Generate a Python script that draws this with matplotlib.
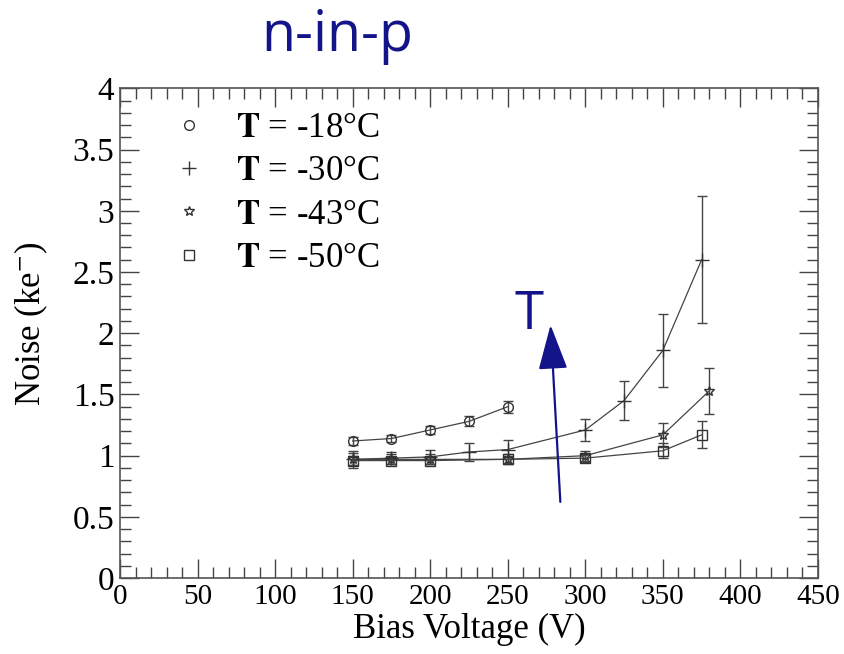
import matplotlib
matplotlib.use("Agg")
import matplotlib.pyplot as plt
from matplotlib.lines import Line2D
from matplotlib.ticker import MultipleLocator

# bias voltage (V), noise (ke-), error (ke-) per temperature
v_18 = [150, 175, 200, 225, 250]
n_18 = [1.12, 1.14, 1.21, 1.28, 1.40]
e_18 = [0.03, 0.03, 0.03, 0.04, 0.05]

v_30 = [150, 175, 200, 225, 250, 300, 325, 350, 375]
n_30 = [0.97, 0.98, 0.99, 1.03, 1.05, 1.21, 1.45, 1.86, 2.60]
e_30 = [0.07, 0.05, 0.06, 0.07, 0.08, 0.09, 0.16, 0.30, 0.52]

v_43 = [150, 175, 200, 250, 300, 350, 380]
n_43 = [0.97, 0.97, 0.97, 0.97, 1.00, 1.17, 1.53]
e_43 = [0.05, 0.04, 0.04, 0.04, 0.04, 0.10, 0.19]

v_50 = [150, 175, 200, 250, 300, 350, 375]
n_50 = [0.96, 0.96, 0.96, 0.97, 0.98, 1.04, 1.17]
e_50 = [0.04, 0.03, 0.03, 0.03, 0.03, 0.06, 0.11]

temps = ["-18", "-30", "-43", "-50"]
markers = ["o", "+", "*", "s"]
x_ticks = [0, 50, 100, 150, 200, 250, 300, 350, 400, 450]
y_ticks = [0, 0.5, 1, 1.5, 2, 2.5, 3, 3.5, 4]

NAVY = "#14148a"
SERIF = "Liberation Serif"
plt.rcParams["mathtext.fontset"] = "stix"

fig = plt.figure(figsize=(8.45, 6.54), dpi=100)
ax = fig.add_axes([0.142, 0.116, 0.826, 0.749])

series = [(v_18, n_18, e_18), (v_30, n_30, e_30), (v_43, n_43, e_43), (v_50, n_50, e_50)]
handles = []
for (v, n, e), mk in zip(series, markers):
    style = dict(marker=mk, ms=7 if mk != "+" else 10, mfc="none", mec="#333", mew=1.0)
    ax.errorbar(v, n, yerr=e, color="#444", lw=0.9, elinewidth=1.0,
                capsize=3.5, capthick=1.0, **style)
    handles.append(Line2D([], [], ls="none", **style))

ax.set_xlim(0, 450)
ax.set_ylim(0, 4)
ax.xaxis.set_minor_locator(MultipleLocator(10))
ax.yaxis.set_minor_locator(MultipleLocator(0.1))
ax.tick_params(which="both", direction="in", top=True, right=True, color="#444")
ax.tick_params(which="major", length=14, width=1.0, pad=4)
ax.tick_params(which="minor", length=8, width=1.0)
for s in ax.spines.values():
    s.set_color("#555")
    s.set_linewidth(1.2)

ax.set_xticks(x_ticks)
ax.set_xticklabels([f"{x:g}" for x in x_ticks], fontsize=21, family=SERIF)
ax.set_yticks(y_ticks)
ax.set_yticklabels([f"{y:g}" for y in y_ticks], fontsize=24, family=SERIF)
ax.set_xlabel("Bias Voltage (V)", fontsize=25, family=SERIF, labelpad=2)
ax.set_ylabel("Noise (ke$^{-}$)", fontsize=25, family=SERIF)
ax.yaxis.set_label_coords(-0.10, 0.52)

labels = [r"$\mathbf{T}$ = " + t + "°C" for t in temps]
ax.legend(handles, labels, loc="upper left", bbox_to_anchor=(0.029, 1.016),
          frameon=False, handlelength=1.0, handletextpad=0.85,
          labelspacing=0.30, prop=dict(family=SERIF, size=25))

# temperature arrow
ax.annotate("", xy=(277.5, 2.09), xytext=(284, 0.6),
            arrowprops=dict(arrowstyle="-|>,head_length=2.0,head_width=0.65",
                            mutation_scale=14, lw=1.6, color=NAVY))
ax.text(264, 2.15, "T", color=NAVY, fontsize=38, family="Open Sans",
        ha="center", va="center")

fig.text(0.399, 0.922, "n-in-p", color=NAVY, fontsize=40, family="Open Sans",
         ha="center", va="baseline")

fig.savefig("out.png", dpi=100)
